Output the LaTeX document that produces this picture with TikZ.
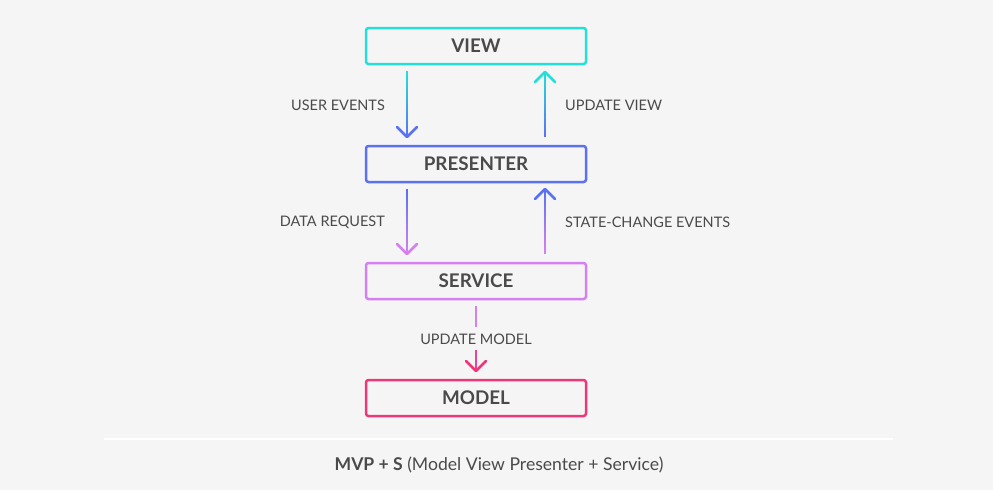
\documentclass[tikz,border=0pt]{standalone}
\usepackage{fontspec}
\setmainfont{Lato}
\usetikzlibrary{calc}
\definecolor{bgc}{HTML}{F5F5F5}
\definecolor{txt}{HTML}{4A4A4A}
\definecolor{viewc}{HTML}{22E0D8}
\definecolor{presc}{HTML}{5A72F2}
\definecolor{servc}{HTML}{D580F0}
\definecolor{modc}{HTML}{F0367A}
\tikzset{
  box/.style={draw=#1, line width=2.5pt, rounded corners=2.5pt, minimum width=220pt, minimum height=36pt,
    inner sep=0pt, font=\fontsize{18.8}{22}\selectfont\bfseries, text=txt},
  lab/.style={font=\fontsize{14.5}{17}\selectfont, text=txt, inner sep=0pt},
  shaft/.style={line width=2.5pt, line cap=butt},
  head/.style={line width=2.5pt, line cap=round, line join=round},
}
\newcommand\gradarrow[4]{%
  \foreach \i in {0,...,23}{%
    \pgfmathtruncatemacro\pct{\i*100/23}%
    \draw[shaft, color={#4!\pct!#3}] ($(#1)!\i/24!(#2)$) -- ($(#1)!{(\i+1.15)/24}!(#2)$);
  }
  \coordinate (hb) at ($(#2)!10pt!(#1)$);
  \draw[head, color=#4] ($(hb)!10pt!90:(#2)$) -- (#2) -- ($(hb)!10pt!-90:(#2)$);
}
\begin{document}
\begin{tikzpicture}[x=1pt,y=-1pt]
\fill[bgc] (0,0) rectangle (993,490);
\useasboundingbox (0,0) rectangle (993,490);

\node[box=viewc] (view) at (476,46) {VIEW};
\node[box=presc] (pres) at (476,164) {PRESENTER};
\node[box=servc] (serv) at (476,281) {SERVICE};
\node[box=modc] (model) at (476,398) {MODEL};

% view <-> presenter
\coordinate (a1s) at (407,71);
\coordinate (a1e) at (407,137);
\gradarrow{a1s}{a1e}{viewc}{presc}
\coordinate (a2s) at (545,137);
\coordinate (a2e) at (545,72);
\gradarrow{a2s}{a2e}{presc}{viewc}
\node[lab, anchor=east] (l1) at (385,105) {USER EVENTS};
\node[lab, anchor=west] (l2) at (565,105) {UPDATE VIEW};

% presenter <-> service
\coordinate (b1s) at (407,189);
\coordinate (b1e) at (407,254);
\gradarrow{b1s}{b1e}{presc}{servc}
\coordinate (b2s) at (545,254);
\coordinate (b2e) at (545,189);
\gradarrow{b2s}{b2e}{servc}{presc}
\node[lab, anchor=east] (l3) at (385,222) {DATA REQUEST};
\node[lab, anchor=west] (l4) at (565,222) {STATE-CHANGE EVENTS};

% service -> model
\coordinate (c1s) at (476,306);
\coordinate (c1e) at (476,327);
\draw[shaft, servc] (c1s) -- (c1e);
\node[lab] (l5) at (476,339) {UPDATE MODEL};
\coordinate (c2s) at (476,350);
\coordinate (c2e) at (476,371);
\gradarrow{c2s}{c2e}{modc!80!servc}{modc}

% separator and caption
\coordinate (sl) at (104,439);
\coordinate (sr) at (893,439);
\draw[white, line width=2pt] (sl) -- (sr);
\node[font=\fontsize{17.6}{20}\selectfont, text=txt, inner sep=0pt] (cap) at (499,465)
  {\textbf{MVP + S} (Model View Presenter + Service)};
\end{tikzpicture}
\end{document}
